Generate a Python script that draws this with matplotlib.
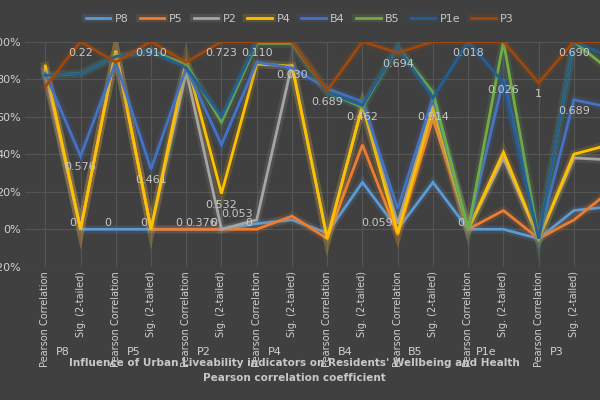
import matplotlib
matplotlib.use("Agg")
import matplotlib.pyplot as plt
import matplotlib.patheffects as pe
import matplotlib.transforms as mtrans
import numpy as np

cats = ["Pearson Correlation", "Sig. (2-tailed)"] * 8 + ["Pearson Correlation"]
groups = ["P8", "P5", "P2", "P4", "B4", "B5", "P1e", "P3"]
names = ["P8", "P5", "P2", "P4", "B4", "B5", "P1e", "P3"]
colors = ["#5b9bd5", "#ed7d31", "#a5a5a5", "#ffc000", "#4472c4", "#70ad47", "#255e91", "#9e480e"]

P8 = [0.84, 0.00, 0.00, 0.00, 0.00, 0.00, 0.03, 0.05, -0.02, 0.25, 0.00, 0.25, 0.00, 0.00, -0.05, 0.10, 0.12]
P5 = [0.84, 0.00, 0.95, 0.00, 0.00, 0.00, 0.00, 0.07, -0.05, 0.45, -0.03, 0.59, 0.00, 0.10, -0.05, 0.05, 0.20]
P2 = [0.85, 0.00, 0.95, 0.00, 0.84, 0.00, 0.05, 0.88, -0.05, 0.66, 0.03, 0.66, 0.00, 0.38, -0.05, 0.38, 0.37]
P4 = [0.87, 0.00, 0.95, 0.00, 0.90, 0.19, 0.88, 0.87, -0.05, 0.66, -0.02, 0.65, 0.00, 0.41, -0.05, 0.40, 0.45]
B4 = [0.83, 0.39, 0.89, 0.32, 0.86, 0.45, 0.89, 0.86, 0.75, 0.68, 0.11, 0.70, 0.00, 0.80, -0.05, 0.69, 0.65]
B5 = [0.82, 0.83, 0.92, 0.95, 0.88, 0.57, 0.99, 0.99, 0.73, 0.65, 0.97, 0.73, 0.00, 1.00, -0.05, 1.00, 0.85]
P1e = [0.82, 0.83, 0.92, 0.95, 0.86, 0.60, 1.00, 1.00, 0.73, 0.66, 0.97, 0.70, 1.00, 0.78, -0.05, 1.00, 0.92]
P3 = [0.76, 1.00, 0.89, 1.00, 0.89, 1.00, 1.00, 1.00, 0.74, 1.00, 0.94, 1.00, 1.00, 1.00, 0.78, 1.00, 1.00]
series = [P8, P5, P2, P4, B4, B5, P1e, P3]

# (series index, point index, label text)
labels = [(7, 1, "0.22"), (7, 3, "0.910"), (7, 5, "0.723"), (7, 6, "0.110"), (7, 8, "0.689"),
          (7, 10, "0.694"), (7, 12, "0.018"), (7, 14, "1"), (7, 15, "0.690"),
          (4, 1, "0.576"), (4, 3, "0.461"), (3, 5, "0.532"), (2, 5, "0.376"),
          (3, 9, "0.462"), (2, 11, "0.914"), (4, 13, "0.026"), (4, 15, "0.689"),
          (0, 1, "0"), (0, 2, "0"), (0, 3, "0"), (1, 4, "0"), (1, 5, "0"), (1, 6, "0"),
          (2, 6, "0.053"), (2, 7, "0.030"), (0, 10, "0.059"), (0, 12, "0")]

plt.rcParams['font.family'] = ['DejaVu Sans']
fig = plt.figure(figsize=(6, 4), dpi=100, facecolor="#404040")
ax = fig.add_axes([0.042, 0.333, 0.958, 0.563])
ax.set_facecolor("#404040")
x = np.arange(len(cats))
for s, n, c in zip(series, names, colors):
    ax.plot(x, s, color=c, lw=2, label=n, solid_joinstyle="miter",
            path_effects=[pe.Stroke(linewidth=6, foreground=c, alpha=0.15), pe.Normal()])
for si, pi, t in labels:
    v = series[si][pi]
    if v < 0.1:
        ax.text(x[pi] - 0.12, v + 0.005, t, color="#c8c8c8", fontsize=8, ha="right", va="bottom")
    else:
        ax.text(x[pi], v - 0.06, t, color="#c8c8c8", fontsize=8, ha="center", va="center")

ax.set_xlim(-0.57, 15.74)
ax.set_ylim(-0.2, 1.0)
ax.set_yticks([-0.2, 0, 0.2, 0.4, 0.6, 0.8, 1.0])
ax.set_yticklabels(["-20%", "0%", "20%", "40%", "60%", "80%", "100%"], color="#d0d0d0", fontsize=8)
ax.set_xticks(x[:16])
ax.set_xticklabels(cats[:16], rotation=90, color="#d0d0d0", fontsize=7)
ax.tick_params(length=0, pad=3)
ax.grid(True, color="#555555", lw=0.8)
ax.set_axisbelow(True)
for sp in ax.spines.values():
    sp.set_visible(False)
tr = mtrans.blended_transform_factory(ax.transData, fig.transFigure)
for i, g in enumerate(groups):
    ax.text(2 * i + 0.5, 0.12, g, transform=tr, color="#d0d0d0", fontsize=8, ha="center", va="center")
fig.text(0.49, 0.093, "Influence of Urban Liveability indicators on Residents' Wellbeing and Health",
         color="#c8c8c8", fontsize=7.5, fontweight="bold", ha="center", va="center")
fig.text(0.49, 0.056, "Pearson correlation coefficient", color="#c8c8c8", fontsize=7.5,
         fontweight="bold", ha="center", va="center")
fig.legend(loc="upper center", bbox_to_anchor=(0.5, 0.99), ncol=8, frameon=False,
           fontsize=8, labelcolor="#c8c8c8", handlelength=2.2, columnspacing=1.0, handletextpad=0.4)
fig.savefig("out.png", facecolor=fig.get_facecolor())
